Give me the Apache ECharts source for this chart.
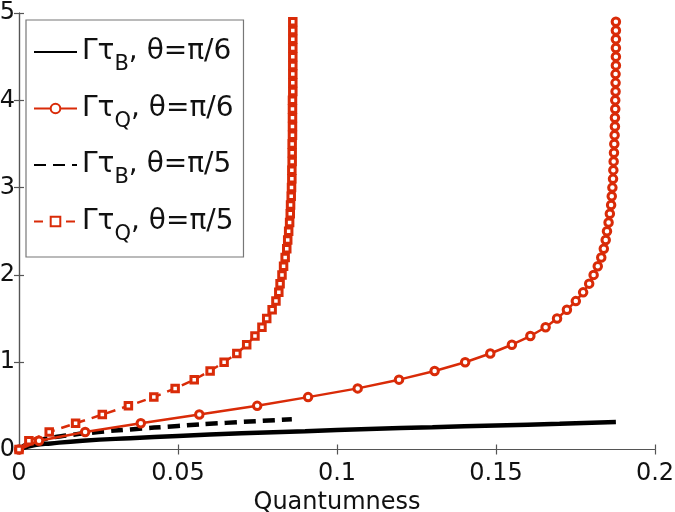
<!DOCTYPE html>
<html><head><meta charset="utf-8">
<script src="https://cdn.jsdelivr.net/npm/echarts@6/dist/echarts.min.js"></script>
<style>html,body{margin:0;padding:0;background:#fff}#c{width:675px;height:512px}</style>
</head><body><div id="c"></div>
<script>
// Γτ sample values (shared by both Γτ_Q curves)
const gammaTauQ = [0,0.1,0.2,0.3,0.4,0.5,0.6,0.7,0.8,0.9,1.0,1.1,1.2,1.3,1.4,1.5,1.6,1.7,1.8,1.9,2.0,2.1,2.2,2.3,2.4,2.5,2.6,2.7,2.8,2.9,3.0,3.1,3.2,3.3,3.4,3.5,3.6,3.7,3.8,3.9,4.0,4.1,4.2,4.3,4.4,4.5,4.6,4.7,4.8,4.9];
// Quantumness for Γτ_Q, θ=π/6
const quantQ_pi6 = [0,0.0063,0.0208,0.0383,0.0567,0.0749,0.0909,0.1065,0.1195,0.1307,0.1403,0.1482,0.1550,0.1608,0.1656,0.1692,0.1723,0.1751,0.1774,0.1793,0.1807,0.1820,0.1831,0.1839,0.1845,0.1849,0.1854,0.1858,0.1862,0.1864,0.1866,0.1868,0.1869,0.1870,0.1871,0.1872,0.1873,0.1874,0.1874,0.1875,0.1875,0.1876,0.1876,0.1876,0.1877,0.1877,0.1877,0.1877,0.1877,0.1877];
// Quantumness for Γτ_Q, θ=π/5
const quantQ_pi5 = [0,0.0031,0.0095,0.0178,0.0262,0.0344,0.0424,0.0491,0.0551,0.0601,0.0645,0.0685,0.0716,0.0742,0.0764,0.0779,0.0796,0.0808,0.0817,0.0821,0.0827,0.0832,0.0837,0.0842,0.0845,0.0848,0.0851,0.0853,0.0854,0.0856,0.0857,0.0858,0.0858,0.0859,0.0859,0.0859,0.0860,0.0860,0.0860,0.0860,0.0860,0.0861,0.0861,0.0861,0.0861,0.0861,0.0861,0.0861,0.0861,0.0861];
// Γτ_B, θ=π/6
const quantB_pi6 = [0,0.005,0.01,0.02,0.035,0.05,0.07,0.09,0.11,0.13,0.15,0.17,0.1877];
const gammaTauB_pi6 = [0,0.05,0.07,0.1,0.13,0.155,0.185,0.21,0.235,0.255,0.275,0.295,0.315];
// Γτ_B, θ=π/5
const quantB_pi5 = [0,0.003,0.008,0.015,0.025,0.035,0.05,0.065,0.0858];
const gammaTauB_pi5 = [0,0.07,0.12,0.16,0.2,0.23,0.27,0.305,0.346];

const xTicks = [0,0.05,0.1,0.15,0.2];
const yTicks = [0,1,2,3,4,5];
const names = ['B6','Q6','B5','Q5'];

const zip = (a,b) => a.map((v,i)=>[v,b[i]]);
const RED = '#d92b08';
const FONT = "'DejaVu Sans', 'Liberation Sans', Arial, sans-serif";
const chart = echarts.init(document.getElementById('c'), null, {renderer:'canvas'});

const fmtX = v => { const t = xTicks.find(t=>Math.abs(t-v)<1e-9); return t===undefined?'':String(t); };
const fmtY = v => { const t = yTicks.find(t=>Math.abs(t-v)<1e-9); return t===undefined?'':String(t); };
const axisCommon = {
  axisLine:{show:true,lineStyle:{color:'#555',width:1.2}},
  axisTick:{show:true,inside:true,length:5,lineStyle:{color:'#555',width:1.2}},
  splitLine:{show:false}
};
const legendText = {
  B6:'{g|Γτ}{s|B}{g|, θ=π/6}', Q6:'{g|Γτ}{s|Q}{g|, θ=π/6}',
  B5:'{g|Γτ}{s|B}{g|, θ=π/5}', Q5:'{g|Γτ}{s|Q}{g|, θ=π/5}'
};
const hidden = {color:'rgba(0,0,0,0)',borderColor:'rgba(0,0,0,0)',opacity:0};

chart.setOption({
  animation:false,
  backgroundColor:'#fff',
  grid:{left:19,right:20,top:13,bottom:62.5,containLabel:false,outerBoundsMode:'none'},
  xAxis:[
    Object.assign({type:'value',min:0,max:0.2,interval:0.05,position:'bottom',
      name:'Quantumness',nameLocation:'middle',nameGap:28,
      nameTextStyle:{fontSize:24,color:'#111',fontFamily:FONT},
      axisLabel:{fontSize:24,color:'#111',margin:12,fontFamily:FONT,formatter:fmtX}},axisCommon),
    Object.assign({type:'value',min:0,max:0.2,interval:0.05,position:'top',axisLabel:{show:false}},axisCommon)
  ],
  yAxis:[
    Object.assign({type:'value',min:0,max:5,interval:1,position:'left',
      axisLabel:{fontSize:24,color:'#111',margin:4,fontFamily:FONT,formatter:fmtY}},axisCommon),
    Object.assign({type:'value',min:0,max:5,interval:1,position:'right',axisLabel:{show:false}},axisCommon)
  ],
  legend:{
    orient:'vertical',left:26,top:20,
    padding:[18,10,12,7],itemGap:19,
    itemWidth:43,itemHeight:12,
    backgroundColor:'#fff',borderColor:'#777',borderWidth:1.2,
    data:[
      {name:'B6',itemStyle:hidden},
      {name:'Q6'},
      {name:'B5',itemStyle:hidden},
      {name:'Q5'}
    ],
    formatter:n=>legendText[n],
    textStyle:{fontFamily:FONT,color:'#111',
      rich:{g:{fontSize:28,fontFamily:FONT,color:'#111'},
            s:{fontSize:21,fontFamily:FONT,color:'#111',padding:[26,0,0,0]}}}
  },
  series:[
    {name:'B6',type:'line',data:zip(quantB_pi6,gammaTauB_pi6),symbol:'none',smooth:true,
     lineStyle:{color:'#000',width:4.5},itemStyle:{color:'#000'},z:3},
    {name:'Q6',type:'line',data:zip(quantQ_pi6,gammaTauQ),symbol:'circle',symbolSize:7.5,
     lineStyle:{color:RED,width:2.5},itemStyle:{color:'#fff',borderColor:RED,borderWidth:3},z:4},
    {name:'B5',type:'line',data:zip(quantB_pi5,gammaTauB_pi5),symbol:'none',smooth:true,
     lineStyle:{color:'#000',width:4.5,type:[12,7]},itemStyle:{color:'#000'},z:3},
    {name:'Q5',type:'line',data:zip(quantQ_pi5,gammaTauQ),symbol:'rect',symbolSize:6.5,
     lineStyle:{color:RED,width:2.5,type:[9,7]},itemStyle:{color:'#fff',borderColor:RED,borderWidth:3},z:4}
  ]
});
</script></body></html>
